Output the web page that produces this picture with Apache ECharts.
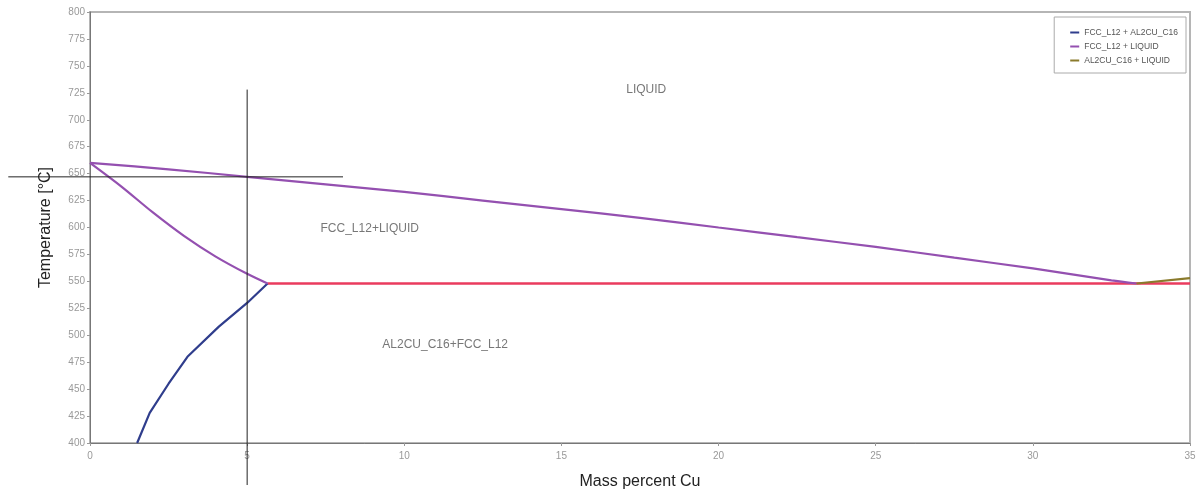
<!DOCTYPE html>
<html>
<head>
<meta charset="utf-8">
<script src="https://cdn.jsdelivr.net/npm/echarts@6/dist/echarts.min.js"></script>
<style>
  html, body { margin: 0; padding: 0; background: #fff; }
  #chart { width: 1201px; height: 493px; }
</style>
</head>
<body>
<div id="chart"></div>
<script>
// Al-Cu phase diagram, Al-rich corner (mass percent Cu vs temperature)
const seriesNames = ['FCC_L12 + AL2CU_C16', 'FCC_L12 + LIQUID', 'AL2CU_C16 + LIQUID'];

// FCC_L12 + AL2CU_C16 boundary (solvus)
const solvusCu   = [1.5, 1.9, 2.5, 3.1, 4.1, 5.0, 5.65];
const solvusT    = [400, 428, 455, 480, 508, 530, 548];

// FCC_L12 + LIQUID: solidus branch
const solidusCu  = [0, 1, 2, 3, 4, 5, 5.65];
const solidusT   = [660, 638, 614, 592, 573, 557, 548];

// FCC_L12 + LIQUID: liquidus branch
const liquidusCu = [0, 2.5, 5, 7.5, 10, 12.5, 15, 17.5, 20, 22.5, 25, 27.5, 30, 32.5, 33.3];
const liquidusT  = [660, 654, 647, 640, 633, 625, 617, 609, 600, 591, 582, 572, 562, 551, 548];

// AL2CU_C16 + LIQUID boundary
const al2cuCu    = [33.3, 35];
const al2cuT     = [548, 553];

// Eutectic isotherm
const eutecticCu = [5.65, 35];
const eutecticT  = [548, 548];

// Reference cross-hair at 5 wt% Cu / 647 °C: [x1, y1, x2, y2] per segment
const crossSegments = [
  [5, 728, 5, 361],
  [-2.6, 647, 8.05, 647]
];

// Phase-field labels
const regionNames = ['LIQUID', 'FCC_L12+LIQUID', 'AL2CU_C16+FCC_L12'];
const regionCu    = [17.7, 8.9, 11.3];
const regionT     = [728, 599, 491];

const xTicks = { min: 0, max: 35, interval: 5 };
const yTicks = { min: 400, max: 800, interval: 25 };

const zip = (xs, ys) => xs.map((x, i) => [x, ys[i]]);

const colors = {
  solvus: '#2f3d8c',
  fccLiq: '#9450b0',
  al2cuLiq: '#8a7a2c',
  eutectic: '#ea3b5e',
  cross: '#222'
};

const chart = echarts.init(document.getElementById('chart'), null, { renderer: 'canvas' });

chart.setOption({
  animation: false,
  backgroundColor: '#fff',
  grid: {
    left: 90, right: 11, top: 12, bottom: 50,
    outerBoundsMode: 'none',
    containLabel: false,
    show: true, borderColor: '#b5b5b5', borderWidth: 2, backgroundColor: '#fff'
  },
  legend: {
    right: 15, top: 17,
    orient: 'vertical',
    data: seriesNames,
    icon: 'rect',
    itemWidth: 9, itemHeight: 2,
    itemGap: 5,
    padding: [11, 8, 8, 16],
    borderColor: '#aaa', borderWidth: 1,
    backgroundColor: '#fff',
    textStyle: { fontSize: 8.5, color: '#555', fontFamily: 'Liberation Sans' }
  },
  xAxis: {
    type: 'value',
    min: xTicks.min, max: xTicks.max, interval: xTicks.interval,
    name: 'Mass percent Cu',
    nameLocation: 'middle', nameGap: 31,
    nameTextStyle: { fontSize: 16, color: '#222', fontFamily: 'Liberation Sans' },
    axisLine: { show: true, lineStyle: { color: '#777', width: 1 } },
    axisTick: { show: true, length: 3, lineStyle: { color: '#999' } },
    axisLabel: { fontSize: 10, color: '#999', margin: 8, fontFamily: 'Liberation Sans' },
    splitLine: { show: false }
  },
  yAxis: {
    type: 'value',
    min: yTicks.min, max: yTicks.max, interval: yTicks.interval,
    name: 'Temperature [°C]',
    nameLocation: 'middle', nameGap: 36, nameRotate: 90,
    nameTextStyle: { fontSize: 16, color: '#222', fontFamily: 'Liberation Sans' },
    axisLine: { show: true, lineStyle: { color: '#777', width: 1 } },
    axisTick: { show: true, length: 3, lineStyle: { color: '#999' } },
    axisLabel: { fontSize: 10, color: '#999', margin: 5, fontFamily: 'Liberation Sans' },
    splitLine: { show: false }
  },
  series: [
    {
      name: 'eutectic', type: 'line', data: zip(eutecticCu, eutecticT),
      showSymbol: false, lineStyle: { color: colors.eutectic, width: 2.5 }, z: 3
    },
    {
      name: seriesNames[0], type: 'line', data: zip(solvusCu, solvusT),
      showSymbol: false, color: colors.solvus, lineStyle: { color: colors.solvus, width: 2.2 }, z: 4
    },
    {
      name: seriesNames[1], type: 'line', data: zip(solidusCu, solidusT), smooth: 0.3,
      showSymbol: false, color: colors.fccLiq, lineStyle: { color: colors.fccLiq, width: 2.2 }, z: 4
    },
    {
      name: seriesNames[1], type: 'line', data: zip(liquidusCu, liquidusT), smooth: 0.3,
      showSymbol: false, color: colors.fccLiq, lineStyle: { color: colors.fccLiq, width: 2.2 }, z: 4
    },
    {
      name: seriesNames[2], type: 'line', data: zip(al2cuCu, al2cuT),
      showSymbol: false, color: colors.al2cuLiq, lineStyle: { color: colors.al2cuLiq, width: 2.2 }, z: 4
    },
    {
      // cross-hair segments, allowed to run past the plot frame
      name: 'crosshair', type: 'custom',
      data: crossSegments,
      clip: false,
      encode: { x: [0, 2], y: [1, 3] },
      renderItem: (params, api) => {
        const p1 = api.coord([api.value(0), api.value(1)]);
        const p2 = api.coord([api.value(2), api.value(3)]);
        return {
          type: 'line',
          shape: { x1: p1[0], y1: p1[1], x2: p2[0], y2: p2[1] },
          style: { stroke: colors.cross, lineWidth: 1 }
        };
      },
      z: 6
    },
    {
      name: 'regions', type: 'scatter',
      data: regionNames.map((n, i) => ({ value: [regionCu[i], regionT[i]], name: n })),
      symbolSize: 0,
      label: {
        show: true, position: 'inside', formatter: p => p.name,
        fontSize: 12, color: '#555', fontFamily: 'Liberation Sans'
      },
      z: 5
    }
  ]
});
</script>
</body>
</html>
